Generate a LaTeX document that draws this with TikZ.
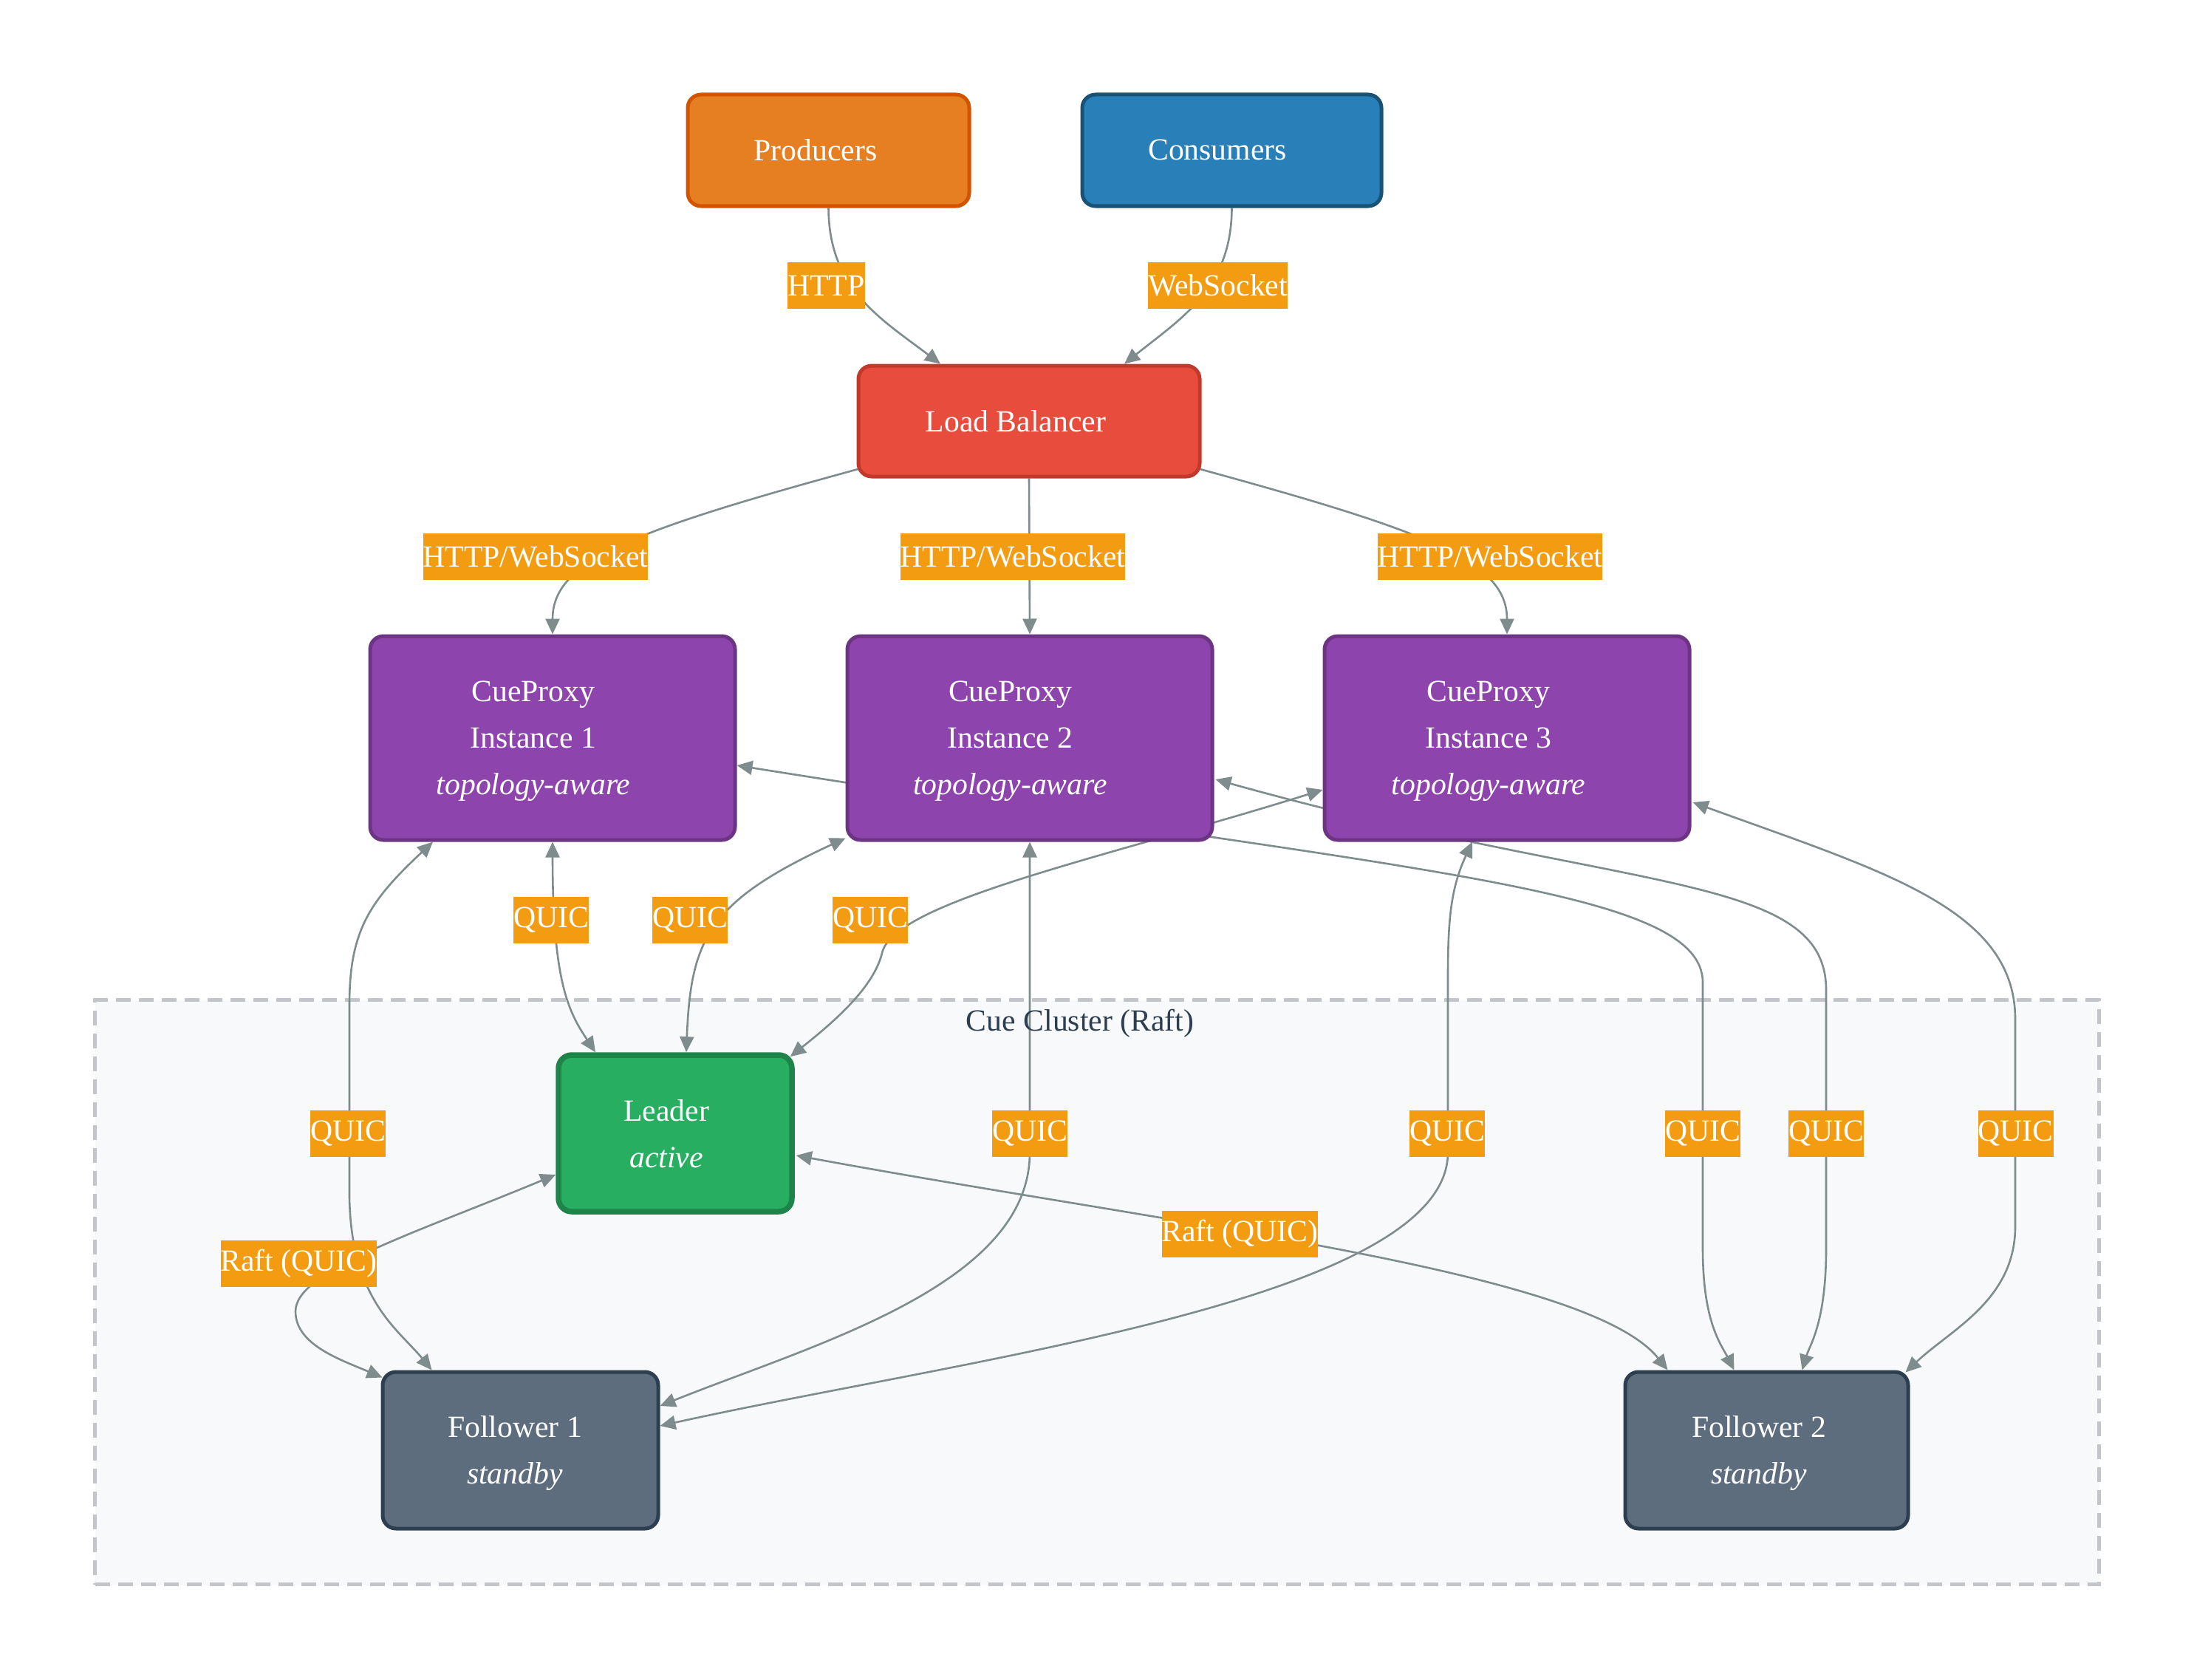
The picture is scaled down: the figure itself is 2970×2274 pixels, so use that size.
\documentclass[tikz,border=0pt]{standalone}
\usepackage{fontspec}
\setmainfont{Liberation Serif}
\usetikzlibrary{arrows.meta,calc}
\definecolor{prodfill}{HTML}{E67E22}\definecolor{prodline}{HTML}{D35400}
\definecolor{consfill}{HTML}{2980B9}\definecolor{consline}{HTML}{1A5276}
\definecolor{lbfill}{HTML}{E74C3C}\definecolor{lbline}{HTML}{C0392B}
\definecolor{cpfill}{HTML}{8E44AD}\definecolor{cpline}{HTML}{6C3483}
\definecolor{leadfill}{HTML}{27AE60}\definecolor{leadline}{HTML}{1E8449}
\definecolor{folfill}{HTML}{5D6D7E}\definecolor{folline}{HTML}{2C3E50}
\definecolor{clbg}{HTML}{F8F9FA}\definecolor{clline}{HTML}{C2C6CA}
\definecolor{lblc}{HTML}{F39C12}\definecolor{edgec}{HTML}{7F8C8D}
\definecolor{titlec}{HTML}{2C3E50}
\pgfdeclarelayer{bg}\pgfdeclarelayer{edges}
\pgfsetlayers{bg,edges,main}
\begin{document}
\begin{tikzpicture}[x=1pt,y=-1pt,
  box/.style={draw, rounded corners=18pt, line width=5pt, inner sep=0pt},
  txt/.style={text=white, align=center, inner sep=0pt, font=\fontsize{41.7pt}{63pt}\selectfont},
  lbl/.style={fill=lblc, text=white, inner xsep=0pt, inner ysep=0pt, minimum height=63pt, font=\fontsize{41.7pt}{50pt}\selectfont},
  conn/.style={draw=edgec, line width=2.6pt, -{Triangle[length=21pt,width=19pt]}},
  conn2/.style={draw=edgec, line width=2.6pt, {Triangle[length=21pt,width=19pt]}-{Triangle[length=21pt,width=19pt]}}
]
\useasboundingbox (0,0) rectangle (2970,2274);
\begin{pgfonlayer}{bg}
\fill[white] (0,0) rectangle (2970,2274);
\node (cluster) [draw=clline, fill=clbg, line width=4.5pt, dash pattern=on 20pt off 11pt, minimum width=2713pt, minimum height=791pt, inner sep=0pt] at (1485,1749) {};
\end{pgfonlayer}
\node (ctitle) [text=titlec, font=\fontsize{41.7pt}{50pt}\selectfont] at (1462,1385) {Cue Cluster (Raft)};

% boxes
\node (prod) [box, draw=prodline, fill=prodfill, minimum width=381pt, minimum height=151pt] at (1121.5,203.5) {};
\node (cons) [box, draw=consline, fill=consfill, minimum width=405pt, minimum height=151pt] at (1667.5,203.5) {};
\node (lb) [box, draw=lbline, fill=lbfill, minimum width=462pt, minimum height=150pt] at (1393,570) {};
\node (cp1) [box, draw=cpline, fill=cpfill, minimum width=494pt, minimum height=276pt] at (748,999) {};
\node (cp2) [box, draw=cpline, fill=cpfill, minimum width=494pt, minimum height=276pt] at (1394,999) {};
\node (cp3) [box, draw=cpline, fill=cpfill, minimum width=494pt, minimum height=276pt] at (2040,999) {};
\node (leader) [box, draw=leadline, fill=leadfill, line width=7.5pt, minimum width=316pt, minimum height=212pt] at (914,1534) {};
\node (f1) [box, draw=folline, fill=folfill, minimum width=373pt, minimum height=212pt] at (704.5,1963) {};
\node (f2) [box, draw=folline, fill=folfill, minimum width=383pt, minimum height=212pt] at (2391.5,1963) {};

% box texts
\node (prodt) [txt] at (1104,203) {Producers};
\node (const) [txt] at (1648,203) {Consumers};
\node (lbt) [txt] at (1375,570) {Load Balancer};
\node (cp1t) [txt] at (722,1003) {CueProxy\\Instance 1\\\textit{topology-aware}};
\node (cp2t) [txt] at (1367.5,1003) {CueProxy\\Instance 2\\\textit{topology-aware}};
\node (cp3t) [txt] at (2015,1003) {CueProxy\\Instance 3\\\textit{topology-aware}};
\node (leadert) [txt] at (902,1535) {Leader\\\textit{active}};
\node (f1t) [txt] at (697,1967) {Follower 1\\\textit{standby}};
\node (f2t) [txt] at (2381,1967) {Follower 2\\\textit{standby}};

% edge labels
\node (lhttp) [lbl] at (1118.5,386.5) {HTTP};
\node (lws) [lbl] at (1648.5,386.5) {WebSocket};
\node (lhw1) [lbl] at (725,753) {HTTP/WebSocket};
\node (lhw2) [lbl] at (1371,753) {HTTP/WebSocket};
\node (lhw3) [lbl] at (2017,753) {HTTP/WebSocket};
\node (lq1) [lbl] at (746,1245) {QUIC};
\node (lq2) [lbl] at (934,1245) {QUIC};
\node (lq3) [lbl] at (1178,1245) {QUIC};
\node (lq4) [lbl] at (471,1534) {QUIC};
\node (lq5) [lbl] at (1394,1534) {QUIC};
\node (lq6) [lbl] at (1959,1534) {QUIC};
\node (lq7) [lbl] at (2305,1534) {QUIC};
\node (lq8) [lbl] at (2472,1534) {QUIC};
\node (lq9) [lbl] at (2728.5,1534) {QUIC};
\node (lr1) [lbl] at (404.5,1710) {Raft (QUIC)};
\node (lr2) [lbl] at (1678.5,1670) {Raft (QUIC)};

\begin{pgfonlayer}{edges}
\draw[conn] (prod.south) .. controls (1122,390) and (1190,430) .. ($(lb.north)+(-120,0)$);
\draw[conn] (cons.south) .. controls (1667,390) and (1600,430) .. ($(lb.north)+(129,0)$);
\draw[conn] ($(lb.west)+(2,65)$) .. controls (850,720) and (748,760) .. (cp1.north);
\draw[conn] (lb.south) -- (cp2.north);
\draw[conn] ($(lb.east)+(-2,65)$) .. controls (1935,720) and (2040,760) .. (cp3.north);
% CueProxy <-> Leader
\draw[conn2] (cp1.south) .. controls (748,1330) and (770,1370) .. ($(leader.north)+(-108,0)$);
\draw[conn2] ($(cp2.south west)+(0,-5)$) .. controls (960,1220) and (935,1270) .. ($(leader.north)+(15,0)$);
\draw[conn2] ($(cp3.west)+(0,70)$) .. controls (1500,1160) and (1210,1220) .. (1194,1290) .. controls (1182,1340) and (1120,1390) .. ($(leader.north east)+(-6,6)$);
% CueProxy <-> Follower 1
\draw[conn2] ($(cp1.south)+(-162,0)$) .. controls (500,1220) and (473,1260) .. (473,1360) -- (473,1620) .. controls (475,1760) and (540,1800) .. ($(f1.north)+(-120,0)$);
\draw[conn2] (cp2.south) -- (1394,1560) .. controls (1394,1740) and (1100,1820) .. ($(f1.east)+(0,-60)$);
\draw[conn2] ($(cp3.south)+(-47,0)$) .. controls (1965,1200) and (1960,1240) .. (1960,1320) -- (1960,1560) .. controls (1960,1760) and (1300,1840) .. ($(f1.east)+(0,-33)$);
% CueProxy <-> Follower 2
\draw[conn2] ($(cp1.east)+(0,37)$) .. controls (1900,1180) and (2305,1200) .. (2305,1330) -- (2305,1690) .. controls (2305,1790) and (2330,1820) .. ($(f2.north)+(-44,0)$);
\draw[conn2] ($(cp2.east)+(2,56)$) .. controls (2200,1210) and (2472,1180) .. (2472,1340) -- (2472,1690) .. controls (2472,1790) and (2450,1820) .. ($(f2.north)+(48,0)$);
\draw[conn2] ($(cp3.east)+(2,87)$) .. controls (2550,1180) and (2728,1230) .. (2728,1380) -- (2728,1660) .. controls (2728,1760) and (2640,1800) .. ($(f2.north east)+(-6,3)$);
% Raft
\draw[conn2] ($(leader.west)+(0,56)$) .. controls (560,1670) and (400,1720) .. (400,1775) .. controls (400,1820) and (460,1840) .. ($(f1.north west)+(2,10)$);
\draw[conn2] ($(leader.east)+(2,30)$) .. controls (1600,1660) and (2150,1720) .. ($(f2.north)+(-134,0)$);
\end{pgfonlayer}
\end{tikzpicture}
\end{document}
